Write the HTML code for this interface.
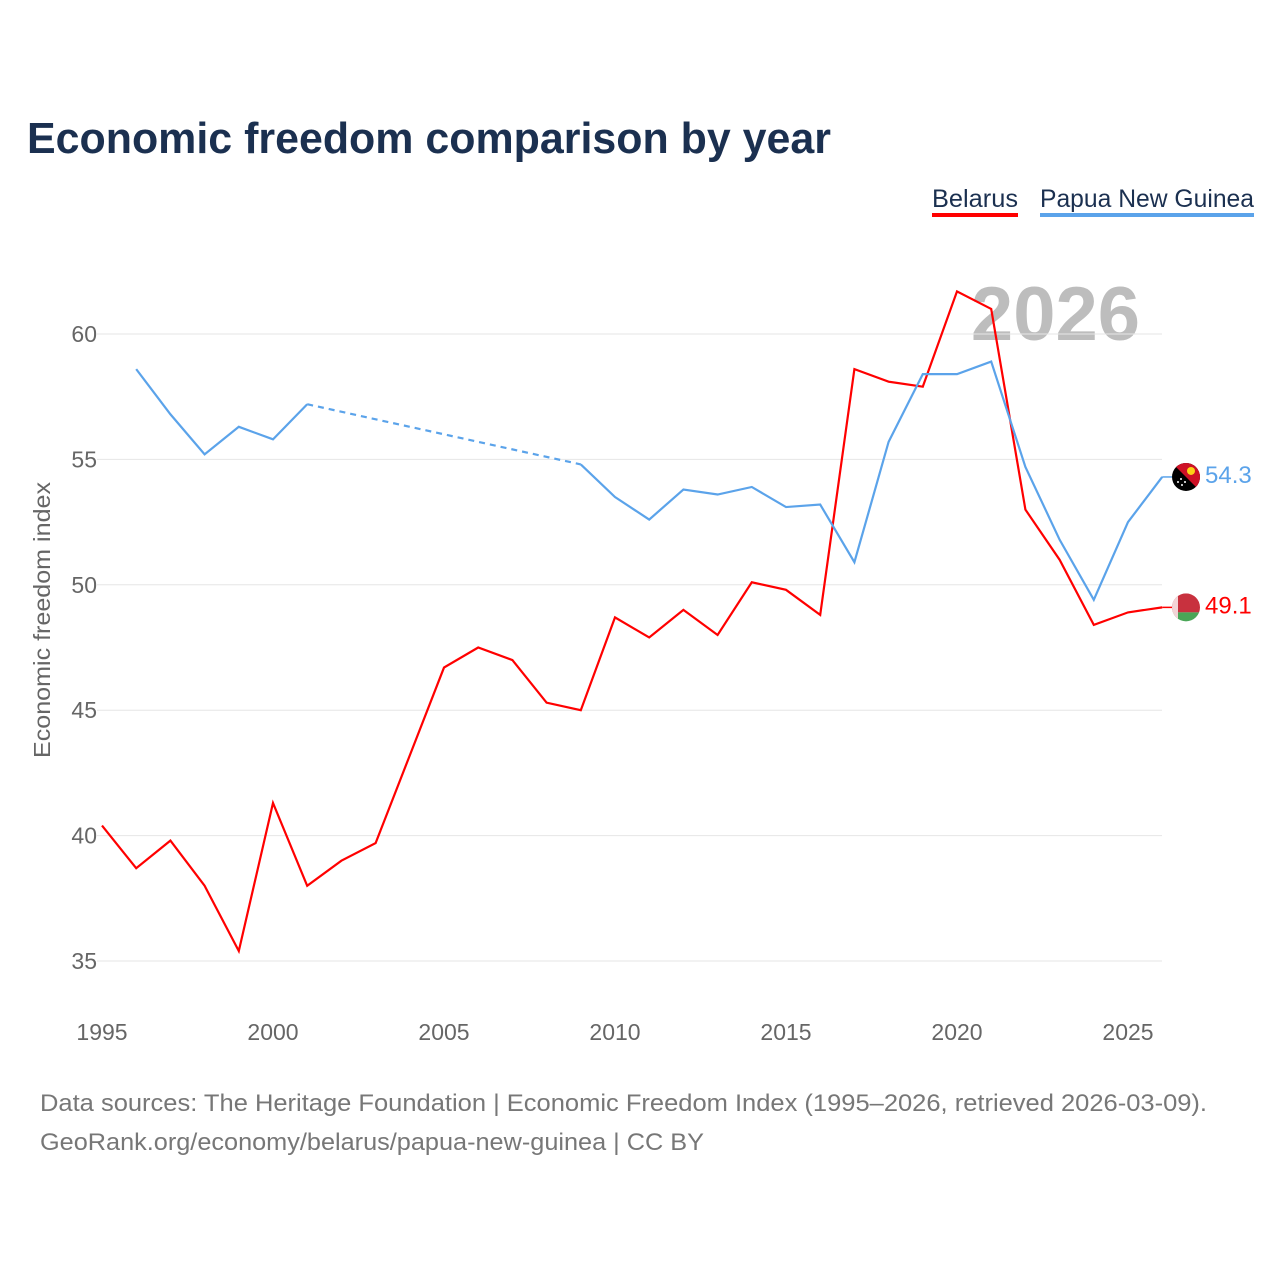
<!DOCTYPE html>
<html><head><meta charset="utf-8"><style>
body{margin:0;background:#fff;font-family:"Liberation Sans",sans-serif}
</style></head><body>
<svg id="c" width="1280" height="1280" xmlns="http://www.w3.org/2000/svg" style="display:block">
<text x="27" y="153" font-size="44" font-weight="bold" fill="#1b3050" textLength="804" lengthAdjust="spacingAndGlyphs">Economic freedom comparison by year</text>
<g>
<g><text x="932" y="207" font-size="25" fill="#1b3050" textLength="86" lengthAdjust="spacingAndGlyphs">Belarus</text><rect x="932" y="213" width="86" height="4" fill="#ff0000"/></g>
<g><text x="1040" y="207" font-size="25" fill="#1b3050" textLength="214" lengthAdjust="spacingAndGlyphs">Papua New Guinea</text><rect x="1040" y="213" width="214" height="4" fill="#5ba3ea"/></g>
</g>
<text x="1140" y="340" font-size="76" font-weight="bold" fill="#bdbdbd" text-anchor="end">2026</text>
<g id="grid"></g><g id="xt"></g><g id="series"></g>
<text transform="translate(50,620) rotate(-90)" font-size="23" fill="#666" text-anchor="middle" textLength="276" lengthAdjust="spacingAndGlyphs">Economic freedom index</text>
<text x="40" y="1111" font-size="24" fill="#777" textLength="1167" lengthAdjust="spacingAndGlyphs">Data sources: The Heritage Foundation | Economic Freedom Index (1995–2026, retrieved 2026-03-09).</text>
<text x="40" y="1150" font-size="24" fill="#777" textLength="664" lengthAdjust="spacingAndGlyphs">GeoRank.org/economy/belarus/papua-new-guinea | CC BY</text>
</svg>
<script>
const years=[1995,1996,1997,1998,1999,2000,2001,2002,2003,2004,2005,2006,2007,2008,2009,2010,2011,2012,2013,2014,2015,2016,2017,2018,2019,2020,2021,2022,2023,2024,2025,2026];
const belarus=[40.4,38.7,39.8,38.0,35.4,41.3,38.0,39.0,39.7,43.2,46.7,47.5,47.0,45.3,45.0,48.7,47.9,49.0,48.0,50.1,49.8,48.8,58.6,58.1,57.9,61.7,61.0,53.0,51.0,48.4,48.9,49.1];
const png=[null,58.6,56.8,55.2,56.3,55.8,57.2,null,null,null,null,null,null,null,54.8,53.5,52.6,53.8,53.6,53.9,53.1,53.2,50.9,55.7,58.4,58.4,58.9,54.7,51.8,49.4,52.5,54.3];
const yTicks=[35,40,45,50,55,60];
const xTicks=[1995,2000,2005,2010,2015,2020,2025];
const NS="http://www.w3.org/2000/svg";
const X=y=>102+(y-1995)*34.2, Y=v=>334+(60-v)*25.08;
function mk(t,a,p){const e=document.createElementNS(NS,t);for(const k in a)e.setAttribute(k,a[k]);(p||document.getElementById('series')).appendChild(e);return e;}
const g=document.getElementById('grid');
yTicks.forEach(v=>{
 const l=mk('line',{x1:97,x2:1162,y1:Y(v),y2:Y(v),stroke:'#e6e6e6','stroke-width':1},g);
 
 
 const t=mk('text',{x:97,y:Y(v)+8,'font-size':23,fill:'#666','text-anchor':'end'},g);t.textContent=v;
 
 
});
const xt=document.getElementById('xt');
xTicks.forEach(v=>{
 const t=mk('text',{x:X(v),y:1040,'font-size':23,fill:'#666','text-anchor':'middle'},xt);t.textContent=v;
 
 
});
function draw(vals,color,name){
 let seg=[],segs=[],gaps=[],last=null;
 vals.forEach((v,i)=>{
  if(v==null){if(seg.length)segs.push(seg);seg=[];return;}
  if(seg.length===0&&last!=null&&last<i-1)gaps.push([last,i]);
  seg.push([X(years[i]),Y(v)]);last=i;
 });
 if(seg.length)segs.push(seg);
 segs.forEach(s=>{const p=mk('polyline',{points:s.map(q=>q.join(',')).join(' '),fill:'none',stroke:color,'stroke-width':2.2});
  
  });
 gaps.forEach(([a,b])=>{const p=mk('line',{x1:X(years[a]),y1:Y(vals[a]),x2:X(years[b]),y2:Y(vals[b]),stroke:color,'stroke-width':2.2,'stroke-dasharray':'6,5'});
  
  });
 const n=vals.length-1,ly=Y(vals[n]);
 mk('line',{x1:X(years[n]),y1:ly,x2:1172,y2:ly,stroke:color,'stroke-width':1.5});
 const t=mk('text',{x:1205,y:ly+6,'font-size':24,fill:color});t.textContent=vals[n].toFixed(1);
 
 
 return ly;
}
const yb=draw(belarus,'#ff0000','belarus');
const yp=draw(png,'#5ba3ea','png');
const fb=mk('g',{});


mk('defs',{},fb).innerHTML='<clipPath id="cb"><circle cx="1186" cy="'+yb+'" r="14"/></clipPath><clipPath id="cp"><circle cx="1186" cy="'+yp+'" r="14"/></clipPath>';
mk('rect',{x:1172,y:yb-14,width:28,height:19,fill:'#c8313e','clip-path':'url(#cb)'},fb);
mk('rect',{x:1172,y:yb+5,width:28,height:10,fill:'#4aa657','clip-path':'url(#cb)'},fb);
mk('rect',{x:1172,y:yb-14,width:6,height:28,fill:'#f3d4d6','clip-path':'url(#cb)'},fb);
const fp=mk('g',{});


mk('circle',{cx:1186,cy:yp,r:14,fill:'#000'},fp);
mk('polygon',{points:`1172,${yp-14} 1200,${yp-14} 1200,${yp+14}`,fill:'#ce1126','clip-path':'url(#cp)'},fp);
mk('circle',{cx:1191,cy:yp-6,r:4,fill:'#fcd116'},fp);
[[-5,2],[-1,5],[-4,8],[-8,5]].forEach(d=>mk('circle',{cx:1186+d[0],cy:yp+d[1],r:1,fill:'#fff'},fp));
</script>
</body></html>
